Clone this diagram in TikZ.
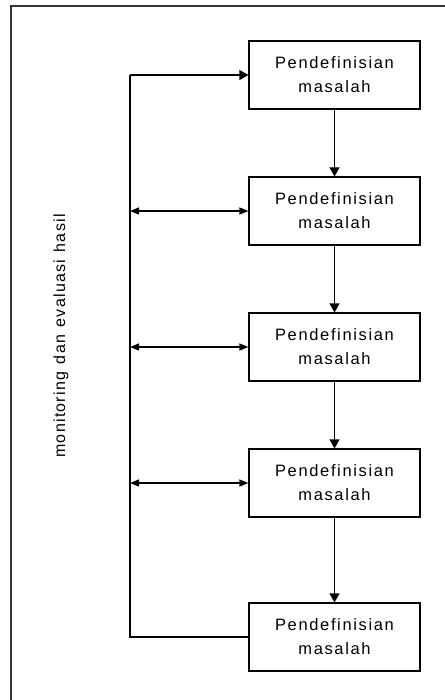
\documentclass[tikz,border=0pt]{standalone}
\usepackage{fontspec}
\setmainfont{Liberation Sans}
\newfontfamily\spaced[LetterSpace=10]{Liberation Sans}
\newfontfamily\sidefont[LetterSpace=8,WordSpace=1.3]{Liberation Sans}
\usetikzlibrary{arrows.meta}
\begin{document}
\begin{tikzpicture}[x=1pt,y=-1pt,
  stagebox/.style={draw=black,line width=1.2pt,minimum width=171pt,minimum height=68pt,
    align=center,inner sep=0pt,font=\spaced\fontsize{16.5}{24}\selectfont},
  link/.style={line width=1.2pt,-{Triangle[length=9pt,width=10pt]}},
  twoway/.style={line width=1.2pt,{Triangle[length=9pt,width=7pt]}-{Triangle[length=9pt,width=7pt]}},
  plain/.style={line width=1.2pt}]
\useasboundingbox (0,0) rectangle (444,700);
% outer frame (top and left edges)
\draw[line width=1.3pt,black!80] (11,702) -- (11,6) -- (446,6);
% stages
\node[stagebox] (s1) at (334.5,75)  {Pendefinisian\\masalah};
\node[stagebox] (s2) at (334.5,211) {Pendefinisian\\masalah};
\node[stagebox] (s3) at (334.5,347) {Pendefinisian\\masalah};
\node[stagebox] (s4) at (334.5,483) {Pendefinisian\\masalah};
\node[stagebox] (s5) at (334.5,637) {Pendefinisian\\masalah};
% feedback rail
\coordinate (top) at (130,75);
\coordinate (bot) at (130,637);
\coordinate (r2) at (130,211);
\coordinate (r3) at (130,347);
\coordinate (r4) at (130,483);
\draw[plain] (s5.west) -- (bot) -- (top);
\draw[link] (top) -- (s1.west);
\draw[twoway] (r2) -- (s2.west);
\draw[twoway] (r3) -- (s3.west);
\draw[twoway] (r4) -- (s4.west);
% main flow
\draw[link] (s1) -- (s2);
\draw[link] (s2) -- (s3);
\draw[link] (s3) -- (s4);
\draw[link] (s4) -- (s5);
% side label
\node[rotate=90,font=\sidefont\fontsize{16}{18}\selectfont] (lbl) at (61,336) {monitoring dan evaluasi hasil};
\end{tikzpicture}
\end{document}
